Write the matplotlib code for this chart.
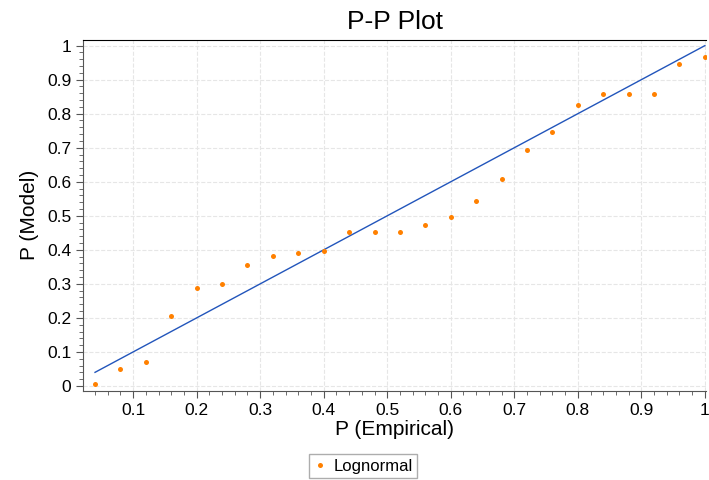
import numpy as np
import matplotlib.pyplot as plt
from matplotlib.ticker import MultipleLocator

plt.rcParams['font.family'] = ['Liberation Sans', 'DejaVu Sans']

# empirical vs model probabilities
p_emp = [0.04, 0.08, 0.12, 0.16, 0.20, 0.24, 0.28, 0.32, 0.36, 0.40, 0.44, 0.48, 0.52,
         0.56, 0.60, 0.64, 0.68, 0.72, 0.76, 0.80, 0.84, 0.88, 0.92, 0.96, 1.00]
p_model = [0.007, 0.050, 0.071, 0.206, 0.289, 0.300, 0.354, 0.382, 0.392, 0.398, 0.453, 0.453, 0.453,
           0.474, 0.495, 0.542, 0.609, 0.694, 0.747, 0.827, 0.859, 0.859, 0.859, 0.947, 0.968]
ref_x = [0.04, 1.0]
ref_y = [0.04, 1.0]

fig = plt.figure(figsize=(7.09, 4.8), dpi=100)
ax = fig.add_axes([0.117, 0.186, 0.879, 0.731])

ax.plot(ref_x, ref_y, color='#2255bb', lw=1)
ax.plot(p_emp, p_model, 'o', color='#ff8000', ms=3.6, mew=0, label='Lognormal')

ax.set_xlim(0.021, 1.002)
ax.set_ylim(-0.014, 1.017)
ax.xaxis.set_major_locator(MultipleLocator(0.1))
ax.yaxis.set_major_locator(MultipleLocator(0.1))
ax.xaxis.set_minor_locator(MultipleLocator(0.02))
ax.yaxis.set_minor_locator(MultipleLocator(0.02))
ax.xaxis.set_major_formatter(plt.FuncFormatter(lambda v, p: '%g' % round(v, 2)))
ax.yaxis.set_major_formatter(plt.FuncFormatter(lambda v, p: '%g' % round(v, 2)))
ax.tick_params(which='major', length=5, labelsize=12.5, color='#555555')
ax.tick_params(which='minor', length=3, color='#555555')
ax.grid(True, which='major', ls='--', color='#e6e6e6', lw=0.8)

ax.spines['right'].set_visible(False)
ax.spines['left'].set_color('#555555')
ax.spines['bottom'].set_color('#555555')
ax.spines['top'].set_color('black')

ax.set_title('P-P Plot', fontsize=19, pad=8)
ax.set_xlabel('P (Empirical)', fontsize=15, labelpad=2)
ax.set_ylabel('P (Model)', fontsize=15, labelpad=6)

leg = fig.legend(loc='center', bbox_to_anchor=(0.512, 0.029), fontsize=12,
                 frameon=True, fancybox=False, handletextpad=0.4, markerscale=1.0,
                 borderpad=0.25, handlelength=0.8, borderaxespad=0)
leg.get_frame().set_edgecolor('#999999')

fig.savefig('out.png', dpi=100)
